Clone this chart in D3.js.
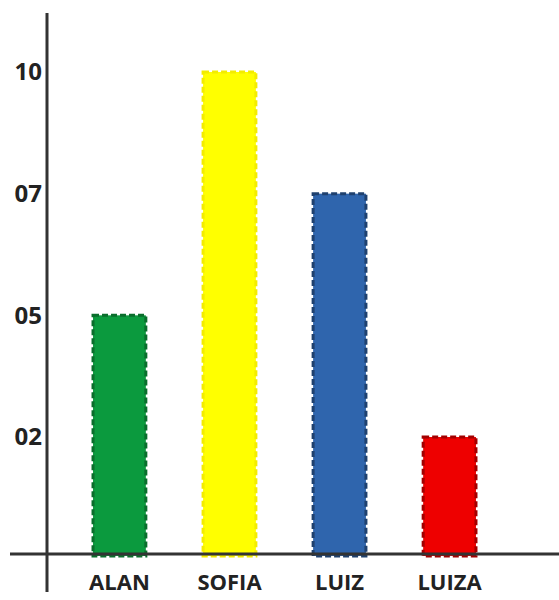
<!DOCTYPE html>
<html>
<head>
<meta charset="utf-8">
<script src="https://cdn.jsdelivr.net/npm/d3@7"></script>
<style>
  body { margin: 0; background: #fff; }
  text { font-family: "Open Sans", sans-serif; font-weight: 700; fill: #222; }
</style>
</head>
<body>
<div id="chart"></div>
<script>
// data
const names = ['ALAN', 'SOFIA', 'LUIZ', 'LUIZA'];
const scores = ['05', '10', '07', '02'];
const tickLabels = ['02', '05', '07', '10'];
const fills = ['#0b9a3e', '#ffff00', '#2f65ad', '#ee0000'];
const borders = ['#0a6e2c', '#f3ec00', '#1f416f', '#a30000'];

const width = 559, height = 600;
const baseY = 554;

let svg = d3.select('#chart')
    .append('svg')
    .attr('width', width)
    .attr('height', height)

let xScale = d3.scaleBand()
    .domain(names)
    .range([38, 531])
    .paddingInner(0.52)
    .paddingOuter(0.5)

// the axis is drawn with evenly spaced labels, so use a point scale on them
let yScale = d3.scalePoint()
    .domain(tickLabels)
    .range([437, 72])

// bars
svg.append('g').attr('id', 'bars')
    .selectAll('rect')
    .data(names)
    .join('rect')
    .attr('x', d => xScale(d))
    .attr('y', (d, i) => yScale(scores[i]))
    .attr('width', xScale.bandwidth())
    .attr('height', (d, i) => baseY + 2 - yScale(scores[i]))
    .attr('fill', (d, i) => fills[i])
    .attr('stroke', (d, i) => borders[i])
    .attr('stroke-width', 3)
    .attr('stroke-dasharray', '6,3')

// axis lines
svg.append('line')
    .attr('x1', 10).attr('x2', width)
    .attr('y1', baseY).attr('y2', baseY)
    .attr('stroke', '#333').attr('stroke-width', 3)

svg.append('line')
    .attr('x1', 47).attr('x2', 47)
    .attr('y1', 13).attr('y2', 592)
    .attr('stroke', '#333').attr('stroke-width', 3)

// y labels
let yAxis = d3.axisLeft(yScale).tickSize(0).tickPadding(3)
let yg = svg.append('g')
    .attr('transform', 'translate(45,0)')
    .call(yAxis)
yg.select('.domain').remove()
yg.selectAll('text')
    .attr('font-size', 24)
    .attr('font-family', '"Open Sans", sans-serif')
    .attr('font-weight', 700)
    .attr('fill', '#222')

// x labels
let xAxis = d3.axisBottom(xScale).tickSize(0).tickPadding(0)
let xg = svg.append('g')
    .attr('transform', `translate(0,${baseY + 20})`)
    .call(xAxis)
xg.select('.domain').remove()
xg.selectAll('text')
    .attr('font-size', 22)
    .attr('font-family', '"Open Sans", sans-serif')
    .attr('font-weight', 700)
    .attr('fill', '#222')
</script>
</body>
</html>
